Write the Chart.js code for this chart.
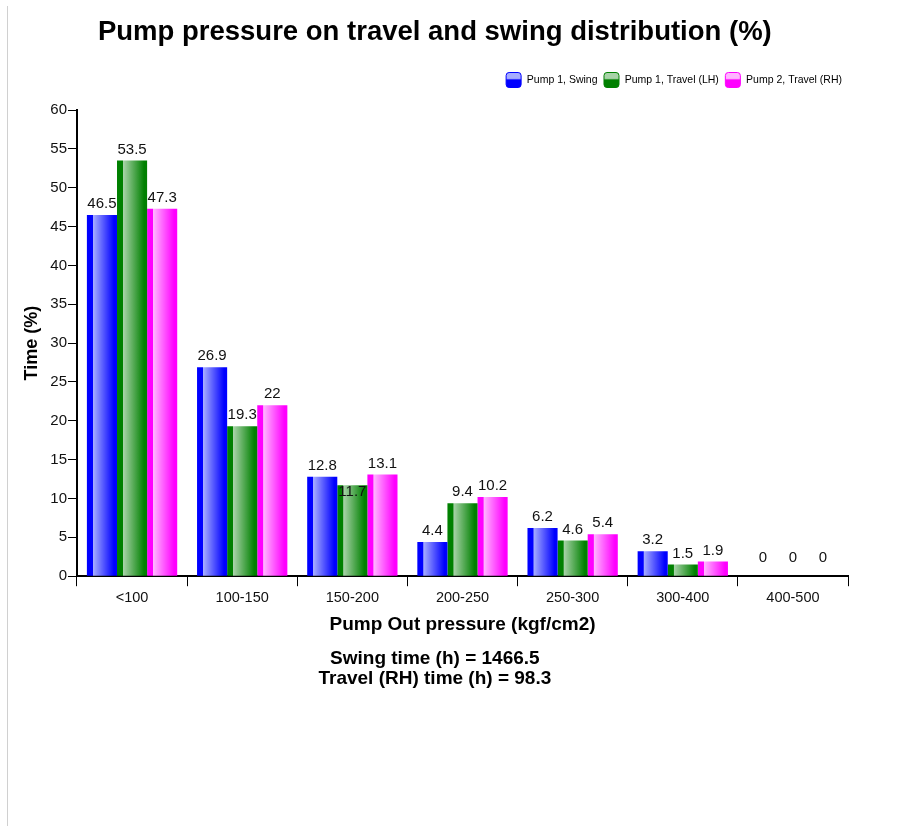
<!DOCTYPE html>
<html>
<head>
<meta charset="utf-8">
<title>Pump pressure on travel and swing distribution</title>
<script src="https://cdn.jsdelivr.net/npm/chart.js@4.4.0/dist/chart.umd.min.js"></script>
<style>
  body { margin: 0; background: #fff; }
  #frame { position: absolute; left: 7px; top: 6px; bottom: 0; border-left: 1px solid #d0d0d0; }
  #wrap { position: absolute; left: 9px; top: 0; width: 852px; height: 826px; }
</style>
</head>
<body>
<div id="frame"></div>
<div id="wrap"><canvas id="pumpChart" width="852" height="826"></canvas></div>
<script>
// chart data
var categories = ['<100', '100-150', '150-200', '200-250', '250-300', '300-400', '400-500'];
var seriesNames = ['Pump 1, Swing', 'Pump 1, Travel (LH)', 'Pump 2, Travel (RH)'];
var swingPump1 = [46.5, 26.9, 12.8, 4.4, 6.2, 3.2, 0];
var travelLhPump1 = [53.5, 19.3, 11.7, 9.4, 4.6, 1.5, 0];
var travelRhPump2 = [47.3, 22, 13.1, 10.2, 5.4, 1.9, 0];
var yMin = 0, yMax = 60, yStep = 5;
var summaryLines = ['Swing time (h) = 1466.5', 'Travel (RH) time (h) = 98.3'];

var FONT = '"Liberation Sans", Arial, sans-serif';
var seriesColors = [
    { solid: '#0000ff', light: '#a6acff' },
    { solid: '#008000', light: '#a8d3a8' },
    { solid: '#ff00ff', light: '#ffb6ff' }
];

function barGradient(ctx, x0, x1, c) {
    var g = ctx.createLinearGradient(x0, 0, x1, 0);
    g.addColorStop(0, c.solid);
    g.addColorStop(0.19, c.solid);
    g.addColorStop(0.21, c.light);
    g.addColorStop(0.9, c.solid);
    g.addColorStop(1, c.solid);
    return g;
}

function barFill(c) {
    var col = seriesColors[c.datasetIndex];
    if (c.dataIndex === undefined) return col.solid;
    var el = c.chart.getDatasetMeta(c.datasetIndex).data[c.dataIndex];
    if (!el || el.x == null || !el.width) return col.solid;
    return barGradient(c.chart.ctx, el.x - el.width / 2, el.x + el.width / 2, col);
}

// value labels above the bars
var valueLabels = {
    id: 'valueLabels',
    afterDatasetsDraw: function(chart) {
        var ctx = chart.ctx;
        ctx.save();
        ctx.font = '15px ' + FONT;
        ctx.fillStyle = '#111';
        ctx.textAlign = 'center';
        ctx.textBaseline = 'middle';
        categories.forEach(function(cat, j) {
            var boxes = chart.data.datasets.map(function(ds, i) {
                var bar = chart.getDatasetMeta(i).data[j];
                var v = ds.data[j];
                var text = String(v);
                return {
                    x: bar.x,
                    y: bar.y - 11 - (v === 0 ? 7 : 0),
                    w: ctx.measureText(text).width,
                    text: text,
                    bar: bar
                };
            });
            // middle label goes onto the bar if it would run into a neighbour
            var mid = boxes[1];
            [boxes[0], boxes[2]].forEach(function(nb) {
                if (Math.abs(nb.x - mid.x) < (nb.w + mid.w) / 2 + 4 && Math.abs(nb.y - mid.y) < 14) {
                    mid.moved = true;
                }
            });
            if (mid.moved) mid.y = mid.bar.y + 7;
            boxes.forEach(function(b) { ctx.fillText(b.text, b.x, b.y); });
        });
        ctx.restore();
    }
};

// glossy legend boxes + a bit more room under the legend
var legendBoxes = {
    id: 'legendBoxes',
    beforeInit: function(chart) {
        var legend = chart.legend;
        var fit = legend.fit;
        legend.fit = function() {
            fit.call(this);
            this.height += 12;
        };
    },
    afterDraw: function(chart) {
        var ctx = chart.ctx;
        var s = 16;
        chart.legend.legendHitBoxes.forEach(function(hb, i) {
            var c = seriesColors[i];
            var x = hb.left, y = hb.top + (hb.height - s) / 2;
            var g = ctx.createLinearGradient(0, y, 0, y + s);
            g.addColorStop(0, c.light);
            g.addColorStop(0.4, c.light);
            g.addColorStop(0.5, c.solid);
            g.addColorStop(1, c.solid);
            ctx.save();
            ctx.beginPath();
            ctx.roundRect(x + 0.5, y + 0.5, s - 1, s - 1, 3);
            ctx.fillStyle = g;
            ctx.fill();
            ctx.strokeStyle = c.solid;
            ctx.lineWidth = 1;
            ctx.stroke();
            ctx.restore();
        });
    }
};

var ctx = document.getElementById('pumpChart').getContext('2d');
var pumpChart = new Chart(ctx, {
    type: 'bar',
    data: {
        labels: categories,
        datasets: [
            { label: seriesNames[0], data: swingPump1, backgroundColor: barFill },
            { label: seriesNames[1], data: travelLhPump1, backgroundColor: barFill },
            { label: seriesNames[2], data: travelRhPump2, backgroundColor: barFill }
        ]
    },
    options: {
        responsive: false,
        animation: false,
        devicePixelRatio: 1,
        layout: { padding: { left: 12.7, right: 13, top: 0, bottom: 137 } },
        datasets: {
            bar: { categoryPercentage: 0.82, barPercentage: 1.0, borderWidth: 0 }
        },
        scales: {
            x: {
                grid: { drawOnChartArea: false, tickLength: 10, color: '#000', offset: true },
                border: { color: '#000', width: 2 },
                ticks: { color: '#111', padding: 3, font: { family: FONT, size: 14.5 } },
                title: {
                    display: true,
                    text: 'Pump Out pressure (kgf/cm2)',
                    color: '#000',
                    font: { family: FONT, size: 19, weight: 'bold' },
                    padding: { top: 4, bottom: 12.6 }
                }
            },
            y: {
                min: yMin,
                max: yMax,
                grid: { drawOnChartArea: false, tickLength: 9, color: '#000' },
                border: { color: '#000', width: 2 },
                ticks: { stepSize: yStep, color: '#111', padding: 1, font: { family: FONT, size: 15 } },
                title: {
                    display: true,
                    text: 'Time (%)',
                    color: '#000',
                    font: { family: FONT, size: 18, weight: 'bold' },
                    padding: { top: 0, bottom: 6 }
                }
            }
        },
        plugins: {
            title: {
                display: true,
                text: 'Pump pressure on travel and swing distribution (%)',
                color: '#000',
                font: { family: FONT, size: 27.5, weight: 'bold' },
                padding: { top: 15.5, bottom: 17.5 }
            },
            subtitle: {
                display: true,
                position: 'bottom',
                text: summaryLines,
                color: '#000',
                font: { family: FONT, size: 19, weight: 'bold', lineHeight: 20 / 19 },
                padding: { top: 0, bottom: 0 }
            },
            legend: {
                position: 'top',
                align: 'end',
                labels: {
                    boxWidth: 16,
                    boxHeight: 16,
                    padding: 6,
                    color: '#000',
                    font: { family: FONT, size: 10.5 },
                    generateLabels: function(chart) {
                        var items = Chart.defaults.plugins.legend.labels.generateLabels(chart);
                        items.forEach(function(it) {
                            it.fillStyle = 'rgba(0,0,0,0)';
                            it.strokeStyle = 'rgba(0,0,0,0)';
                            it.lineWidth = 0;
                        });
                        return items;
                    }
                }
            },
            tooltip: { enabled: false }
        }
    },
    plugins: [valueLabels, legendBoxes]
});
// second pass so the bar gradients know where the bars are
pumpChart.update('none');
</script>
</body>
</html>
